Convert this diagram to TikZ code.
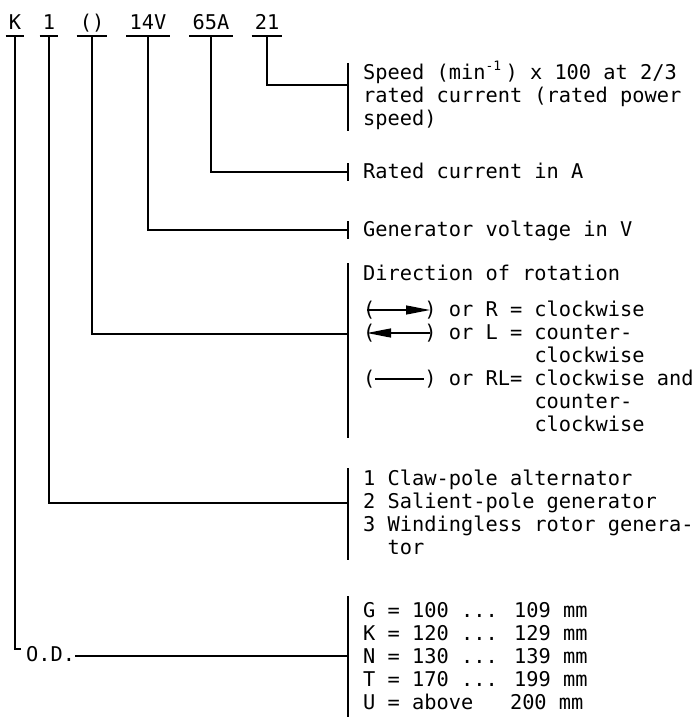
\documentclass[tikz,border=0pt]{standalone}
\usepackage{fontspec}
\setmainfont{DejaVu Sans Mono}
\usetikzlibrary{arrows.meta,calc}
\begin{document}
\begin{tikzpicture}[x=1bp,y=-1bp,
  txt/.style={anchor=base west, inner sep=0pt, font=\fontsize{20.4}{23}\selectfont},
  code/.style={anchor=base, inner xsep=3bp, inner ysep=0pt, font=\fontsize{20.4}{23}\selectfont},
  wire/.style={line width=2.2bp},
  uline/.style={line width=2bp},
  bar/.style={line width=2.4bp},
  rot/.style={line width=1.3bp},
  rhead/.style={-{Triangle[length=24bp,width=9bp]}},
  lhead/.style={{Triangle[length=24bp,width=9bp]}-},
]
\useasboundingbox (0,0) rectangle (696,717);

% code row
\coordinate (ul) at (0,36);
\node[code] (cK) at (15,30) {K};
\node[code] (c1) at (49,30) {1};
\node[code] (cR) at (92,30) {()};
\node[code] (cV) at (148,30) {14V};
\node[code] (cA) at (211,30) {65A};
\node[code] (cS) at (267,30) {21};
\foreach \n in {cK,c1,cR,cV,cA,cS}
  \draw[uline] (\n.west |- ul) -- (\n.east |- ul);

% bars and junctions
\coordinate (sT) at (348,63);  \coordinate (sB) at (348,131); \coordinate (jS) at (348,85);
\coordinate (aT) at (348,163); \coordinate (aB) at (348,181); \coordinate (jA) at (348,172);
\coordinate (vT) at (348,221); \coordinate (vB) at (348,239); \coordinate (jV) at (348,230);
\coordinate (dT) at (348,263); \coordinate (dB) at (348,438); \coordinate (jD) at (348,334);
\coordinate (pT) at (348,468); \coordinate (pB) at (348,560); \coordinate (jP) at (348,503);
\coordinate (oT) at (348,596); \coordinate (oB) at (348,717); \coordinate (jO) at (348,656);
\foreach \t/\b in {sT/sB,aT/aB,vT/vB,dT/dB,pT/pB,oT/oB}
  \draw[bar] (\t) -- (\b);

% connectors
\draw[wire] (cS.south |- ul) |- (jS);
\draw[wire] (cA.south |- ul) |- (jA);
\draw[wire] (cV.south |- ul) |- (jV);
\draw[wire] (cR.south |- ul) |- (jD);
\draw[wire] (c1.south |- ul) |- (jP);
\coordinate (foot) at (21,649);
\draw[wire] (cK.south |- ul) |- (foot);
\node[txt] (od) at (26,661) {O.D.};
\draw[wire] (od.east |- jO) -- (jO);

% speed block
\node[txt] (s1) at (363,80) {Speed (min\makebox[20bp][l]{\raisebox{9bp}{\fontsize{13}{13}\selectfont -1}}) x 100 at 2/3};
\node[txt] (s2) at (363,103) {rated current (rated power};
\node[txt] (s3) at (363,126) {speed)};

\node[txt] (a1) at (363,178) {Rated current in A};
\node[txt] (v1) at (363,236) {Generator voltage in V};

% direction block
\node[txt] (d0) at (363,280) {Direction of rotation};
\node[txt] (d1) at (363,316) {(\phantom{0000}) or R = clockwise};
\node[txt] (d2) at (363,339) {(\phantom{0000}) or L = counter-};
\node[txt] (d3) at (363,362) {\phantom{(0000) or L = }clockwise};
\node[txt] (d4) at (363,385) {(\phantom{0000}) or RL= clockwise and};
\node[txt] (d5) at (363,408) {\phantom{(0000) or L = }counter-};
\node[txt] (d6) at (363,431) {\phantom{(0000) or L = }clockwise};
\draw[rot,rhead] ($(d1.base west)+(4,-6)$) -- ($(d1.base west)+(67,-6)$);
\draw[rot,lhead] ($(d2.base west)+(4,-6)$) -- ($(d2.base west)+(67,-6)$);
\draw[rot] ($(d4.base west)+(12,-6)$) -- ($(d4.base west)+(61,-6)$);

% claw block
\node[txt] (p1) at (363,485) {1 Claw-pole alternator};
\node[txt] (p2) at (363,508) {2 Salient-pole generator};
\node[txt] (p3) at (363,531) {3 Windingless rotor genera-};
\node[txt] (p4) at (363,554) {\phantom{3 }tor};

% O.D. block
\node[txt] (o1) at (363,617) {G = 100 ... 109 mm};
\node[txt] (o2) at (363,640) {K = 120 ... 129 mm};
\node[txt] (o3) at (363,663) {N = 130 ... 139 mm};
\node[txt] (o4) at (363,686) {T = 170 ... 199 mm};
\node[txt] (o5) at (363,709) {U = above\phantom{000}200 mm};
\end{tikzpicture}
\end{document}
